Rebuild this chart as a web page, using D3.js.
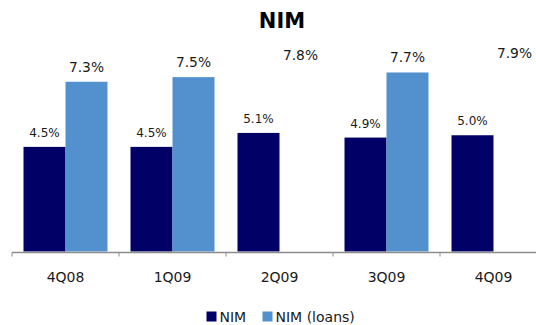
<!DOCTYPE html>
<html>
<head>
<meta charset="utf-8">
<script src="https://cdn.jsdelivr.net/npm/d3@7"></script>
<style>
html,body{margin:0;padding:0;background:#fff;}
svg{display:block;}
text{font-family:"DejaVu Sans",Verdana,sans-serif;}
</style>
</head>
<body>
<script>
const categories = ["4Q08", "1Q09", "2Q09", "3Q09", "4Q09"];
const nim = [4.5, 4.5, 5.1, 4.9, 5.0];
const nimLoans = [7.3, 7.5, 7.8, 7.7, 7.9];
const loansBarShown = [true, true, false, true, false];
const seriesNames = ["NIM", "NIM (loans)"];
const colors = ["#000066", "#5391CE"];

const W = 536, H = 325;
const svg = d3.select("body").append("svg").attr("width", W).attr("height", H);

const x0 = d3.scaleBand().domain(categories).range([12, 547]).paddingInner(0.215).paddingOuter(0.1075);
const x1 = d3.scaleBand().domain([0, 1]).range([0, x0.bandwidth()]);
const y = d3.scaleLinear().domain([0, 10]).range([251.5, 19]);

// title
svg.append("text").attr("x", 282).attr("y", 28).attr("text-anchor", "middle")
  .attr("font-size", 21).attr("font-weight", "bold").attr("fill", "#000").text("NIM");

const rows = categories.map((c, i) => ({c, vals: [nim[i], nimLoans[i]], shown: [true, loansBarShown[i]]}));

const g = svg.selectAll("g.cat").data(rows).join("g").attr("class", "cat")
  .attr("transform", d => `translate(${x0(d.c)},0)`);

g.selectAll("rect").data(d => d.vals.map((v, k) => ({v, k, shown: d.shown[k]})).filter(e => e.shown))
  .join("rect")
  .attr("x", e => x1(e.k)).attr("width", x1.bandwidth())
  .attr("y", e => y(e.v)).attr("height", e => y(0) - y(e.v))
  .attr("fill", e => colors[e.k]);

g.selectAll("text").data(d => d.vals.map((v, k) => ({v, k})))
  .join("text")
  .attr("x", e => x1(e.k) + x1.bandwidth() / 2)
  .attr("y", e => y(e.v) - 10)
  .attr("text-anchor", "middle")
  .attr("font-size", e => e.k === 0 ? 12 : 13.8)
  .attr("fill", "#1a1a1a")
  .text(e => e.v.toFixed(1) + "%");

// axis
const axisY = 252.5;
svg.append("line").attr("x1", 12).attr("x2", W).attr("y1", axisY).attr("y2", axisY)
  .attr("stroke", "#8c8c8c").attr("stroke-width", 1.5);
const bounds = categories.map(c => x0(c) - x0.step() * x0.paddingOuter());
svg.selectAll("line.tick").data(bounds).join("line").attr("class", "tick")
  .attr("x1", d => d).attr("x2", d => d).attr("y1", axisY).attr("y2", axisY + 4)
  .attr("stroke", "#8c8c8c").attr("stroke-width", 1);
svg.selectAll("text.xl").data(categories).join("text").attr("class", "xl")
  .attr("x", c => x0(c) + x0.bandwidth() / 2).attr("y", 282)
  .attr("text-anchor", "middle").attr("font-size", 14).attr("fill", "#1a1a1a").text(c => c);

// legend
const legX = [206.5, 262.5];
seriesNames.forEach((n, k) => {
  svg.append("rect").attr("x", legX[k]).attr("y", 311.5).attr("width", 10).attr("height", 10).attr("fill", colors[k]);
  svg.append("text").attr("x", legX[k] + 13).attr("y", 321.5).attr("font-size", 14).attr("fill", "#1a1a1a").text(n);
});
</script>
</body>
</html>
